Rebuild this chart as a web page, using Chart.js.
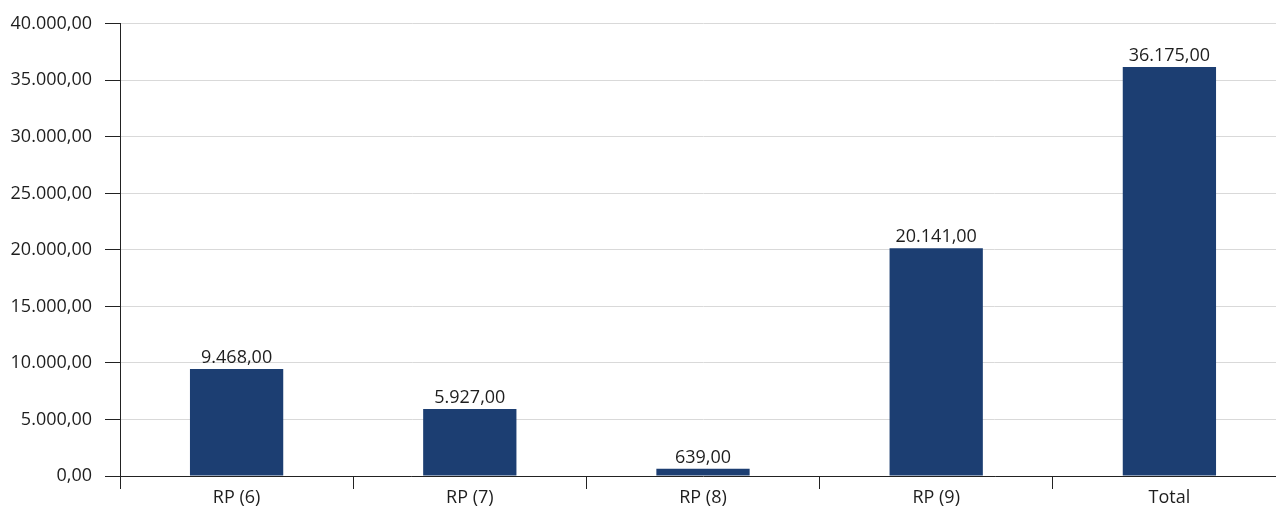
<!DOCTYPE html>
<html>
<head>
<meta charset="utf-8">
<script src="https://cdn.jsdelivr.net/npm/chart.js@4/dist/chart.umd.min.js"></script>
<style>
  html, body { margin: 0; padding: 0; background: #fff; overflow: hidden; }
  #wrap { width: 1276px; height: 507px; overflow: hidden; }
</style>
</head>
<body>
<div id="wrap"><canvas id="chart" width="1286" height="507"></canvas></div>
<script>
// Categories and values
const categories = ["RP (6)", "RP (7)", "RP (8)", "RP (9)", "Total"];
const values = [9468, 5927, 639, 20141, 36175];

// Axis range
const yMin = 0;
const yMax = 40000;
const yStep = 5000;

const colors = {
  bar: "#1c3e72",
  text: "#1e1e1e",
  grid: "#d9d9d9",
  axis: "#222",
};

const font = { family: "'Open Sans', 'Noto Sans', sans-serif", size: 18 };

// 12345.6 -> "12.345,60"
const formatNumber = (v) => {
  const fixed = Math.abs(v).toFixed(2);
  const [intPart, dec] = fixed.split(".");
  const grouped = intPart.replace(/\B(?=(\d{3})+(?!\d))/g, ".");
  return (v < 0 ? "-" : "") + grouped + "," + dec;
};

// Value labels above each bar
const valueLabels = {
  id: "valueLabels",
  afterDatasetsDraw(chart) {
    const ctx = chart.ctx;
    ctx.save();
    ctx.font = `${font.size}px ${font.family}`;
    ctx.fillStyle = colors.text;
    ctx.textAlign = "center";
    ctx.textBaseline = "alphabetic";
    chart.getDatasetMeta(0).data.forEach((bar, i) => {
      ctx.fillText(formatNumber(values[i]), bar.x, bar.y - 6);
    });
    ctx.restore();
  },
};

new Chart(document.getElementById("chart"), {
  type: "bar",
  data: {
    labels: categories,
    datasets: [{
      data: values,
      backgroundColor: colors.bar,
      barPercentage: 0.4,
      categoryPercentage: 1,
    }],
  },
  options: {
    responsive: false,
    animation: false,
    layout: { padding: { top: 22, left: 0, right: 0, bottom: 0 } },
    plugins: {
      legend: { display: false },
      tooltip: { enabled: false },
    },
    scales: {
      x: {
        afterFit: (scale) => { scale.height = 31; },
        grid: {
          offset: true,
          drawOnChartArea: false,
          tickLength: 13,
          tickColor: colors.axis,
        },
        border: { color: colors.axis, width: 1 },
        ticks: { color: colors.text, font: font, padding: -2 },
      },
      y: {
        min: yMin,
        max: yMax,
        afterFit: (scale) => { scale.width = 120; },
        grid: {
          color: colors.grid,
          tickColor: colors.axis,
          tickLength: 15,
        },
        border: { color: colors.axis, width: 1 },
        ticks: {
          stepSize: yStep,
          color: colors.text,
          font: font,
          padding: 13,
          callback: (v) => formatNumber(v),
        },
      },
    },
  },
  plugins: [valueLabels],
});
</script>
</body>
</html>
